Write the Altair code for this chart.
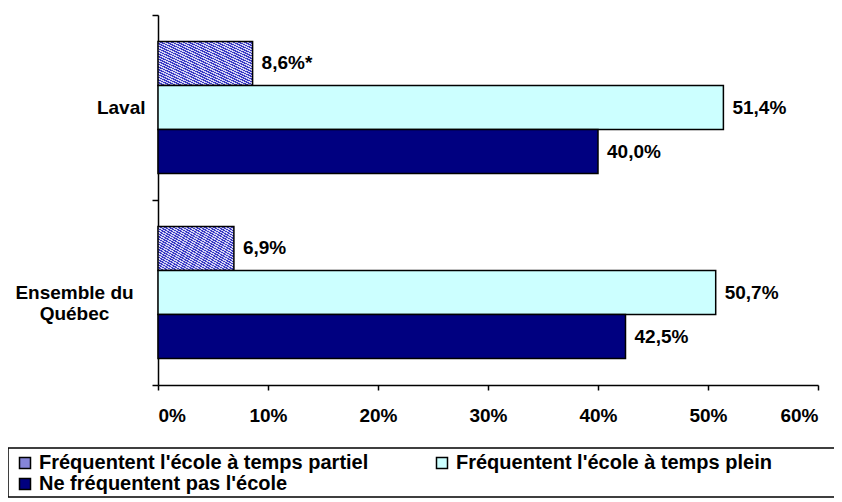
import altair as alt
import pandas as pd

regions = ["Laval", "Ensemble du Québec"]
series = [
    "Fréquentent l'école à temps partiel",
    "Fréquentent l'école à temps plein",
    "Ne fréquentent pas l'école",
]
laval_values = [8.6, 51.4, 40.0]
quebec_values = [6.9, 50.7, 42.5]
laval_labels = ["8,6%*", "51,4%", "40,0%"]
quebec_labels = ["6,9%", "50,7%", "42,5%"]
colors = ["#8585d8", "#ccffff", "#000080"]
x_ticks = [0, 10, 20, 30, 40, 50, 60]

rows = []
for reg, vals, labs in [("Laval", laval_values, laval_labels),
                        ("Ensemble du Québec", quebec_values, quebec_labels)]:
    for s, v, l in zip(series, vals, labs):
        rows.append({"region": reg, "series": s, "value": v, "label": l})
df = pd.DataFrame(rows)

# legend order (column-major fill): partial, not, full
legend_domain = [series[0], series[2], series[1]]
legend_range = [colors[0], colors[2], colors[1]]

FONT = "Liberation Sans"
FS = 19

# diagonal hatch look for the part-time bars
stops = []
n_stripes = 34
for i in range(n_stripes):
    a = i / n_stripes
    b = (i + 0.5) / n_stripes
    c = (i + 1) / n_stripes
    stops += [
        {"offset": a, "color": "#3a3ac4"},
        {"offset": b, "color": "#3a3ac4"},
        {"offset": b, "color": "#d4d4f4"},
        {"offset": c, "color": "#d4d4f4"},
    ]
hatch = {"gradient": "linear", "x1": 0, "y1": 1, "x2": 1, "y2": 0, "stops": stops}

y_enc = alt.Y(
    "region:N",
    sort=regions,
    scale=alt.Scale(paddingInner=0, paddingOuter=0),
    axis=alt.Axis(
        title=None,
        tickBand="extent",
        tickSize=6,
        tickColor="black",
        tickWidth=1.5,
        domainColor="black",
        domainWidth=1.5,
        labelFont=FONT,
        labelFontSize=FS,
        labelFontWeight="bold",
        labelColor="black",
        labelLineHeight=21,
        labelExpr="datum.value == 'Ensemble du Québec' ? ['Ensemble du', 'Québec'] : datum.value",
        labelAlign={"condition": {"test": "datum.value == 'Laval'", "value": "right"}, "value": "center"},
        labelPadding={"condition": {"test": "datum.value == 'Laval'", "value": 7}, "value": 78},
    ),
)
yoff = alt.YOffset("series:N", sort=series, scale=alt.Scale(paddingInner=0, paddingOuter=0.6))

x_enc = alt.X(
    "value:Q",
    scale=alt.Scale(domain=[0, 60], nice=False),
    axis=alt.Axis(
        title=None,
        values=x_ticks,
        grid=False,
        tickSize=5,
        tickColor="black",
        tickWidth=1.5,
        domainColor="black",
        domainWidth=1.5,
        labelFont=FONT,
        labelFontSize=FS,
        labelFontWeight="bold",
        labelColor="black",
        labelPadding=16,
        labelExpr="datum.value + '%'",
    ),
)

base = alt.Chart(df)

bars = base.mark_bar(stroke="black", strokeWidth=1.5).encode(
    x=x_enc,
    y=y_enc,
    yOffset=yoff,
    color=alt.condition(
        alt.datum.series == series[0],
        alt.value(hatch),
        alt.Color(
            "series:N",
            scale=alt.Scale(domain=legend_domain, range=legend_range),
            legend=alt.Legend(
                title=None,
                orient="none",
                legendX=-143,
                legendY=438,
                columns=2,
                columnPadding=63,
                rowPadding=1,
                padding=0,
                symbolType="square",
                symbolSize=121,
                symbolStrokeColor="black",
                symbolStrokeWidth=1.5,
                symbolOpacity=1,
                labelFont=FONT,
                labelFontSize=20,
                labelFontWeight="bold",
                labelColor="black",
                labelOffset=4,
                labelLimit=500,
            ),
        ),
    ),
)

texts = base.mark_text(
    align="left", baseline="middle", dx=9, font=FONT, fontSize=FS, fontWeight="bold", color="black"
).encode(
    x=alt.X("value:Q"),
    y=alt.Y("region:N", sort=regions),
    yOffset=yoff,
    text="label:N",
)

box = alt.Chart(pd.DataFrame({"a": [0]})).mark_rect(
    fillOpacity=0, stroke="black", strokeWidth=1.5
).encode(
    x=alt.value(-150), x2=alt.value(680), y=alt.value(433), y2=alt.value(482)
)

chart = alt.layer(bars, texts, box).properties(
    width=660,
    height=370,
    padding={"left": 150, "top": 7, "right": 16, "bottom": 115},
    autosize=alt.AutoSizeParams(type="none"),
).configure_view(stroke=None)

chart.save("out.html", embed_options={"renderer": "svg", "actions": False})
